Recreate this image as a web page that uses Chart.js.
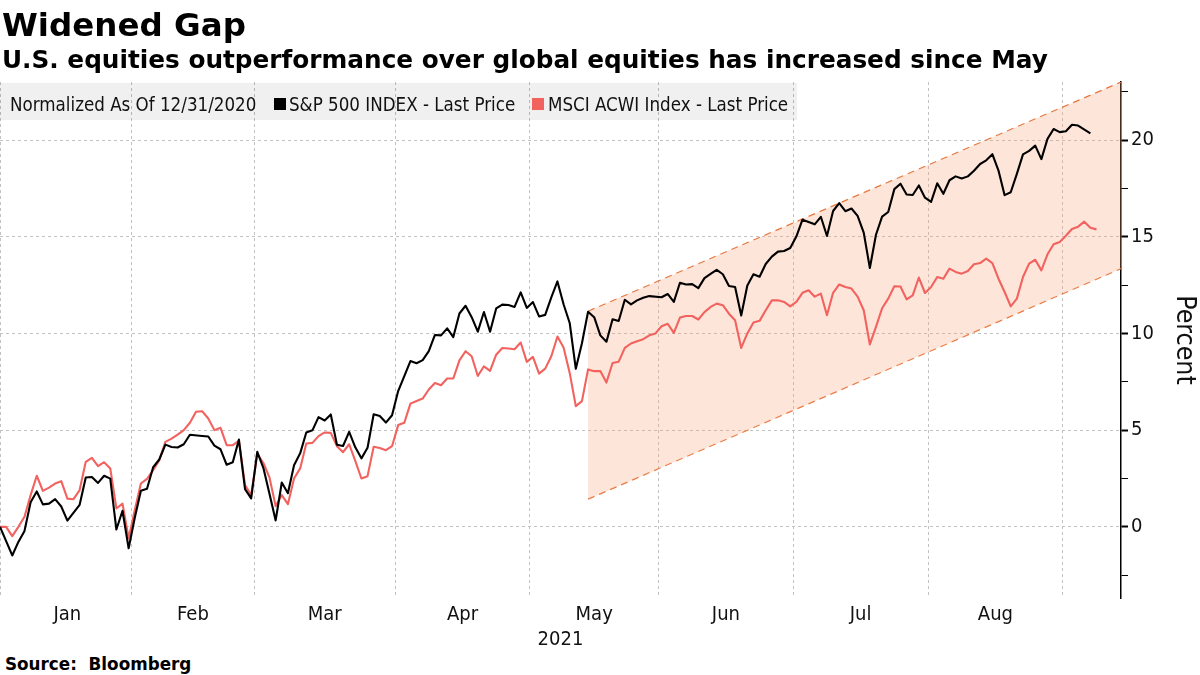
<!DOCTYPE html>
<html><head><meta charset="utf-8">
<script src="https://cdn.jsdelivr.net/npm/chart.js@4.4.1/dist/chart.umd.min.js"></script>
<style>
html,body{margin:0;padding:0;background:#fff;}
#wrap{position:relative;width:1200px;height:675px;overflow:hidden;font-family:"DejaVu Sans",sans-serif;}
.t{position:absolute;white-space:nowrap;line-height:1;color:#000;}
#title{left:2px;top:9px;font-size:32.5px;font-weight:bold;}
#sub{left:2px;top:48px;font-size:24.75px;font-weight:bold;}
#legend{position:absolute;left:0;top:83px;width:797px;height:37px;background:rgba(0,0,0,0.06);}
.lg{position:absolute;top:13px;font-family:"DejaVu Sans Condensed","DejaVu Sans",sans-serif;font-size:18.6px;line-height:1;white-space:nowrap;color:#111;}
.sq{position:absolute;top:15px;width:12px;height:12px;}
#src{left:5px;top:656px;font-size:16.8px;font-weight:bold;}
canvas{position:absolute;left:0;top:0;}
</style></head>
<body>
<div id="wrap">
  <canvas id="c" width="1200" height="652"></canvas>
  <div class="t" id="title">Widened Gap</div>
  <div class="t" id="sub">U.S. equities outperformance over global equities has increased since May</div>
  <div id="legend">
    <span class="lg" style="left:10px">Normalized As Of 12/31/2020</span>
    <span class="sq" style="left:274px;background:#000"></span>
    <span class="lg" style="left:289px">S&amp;P 500 INDEX - Last Price</span>
    <span class="sq" style="left:532px;background:#f2625f"></span>
    <span class="lg" style="left:548px">MSCI ACWI Index - Last Price</span>
  </div>
  <div class="t" id="src">Source:&nbsp; Bloomberg</div>
</div>
<script>
// ---- data (percent change since 12/31/2020, one value per weekday from 2020-12-31) ----
const startDate = '2020-12-31';
const endDate = '2021-09-08';

const sp500 = [
 0, null, -1.48, -0.78, -0.21, 1.27, 1.83, 1.16, 1.20, 1.43, 1.05, 0.32, null, 1.14, 2.55, 2.58, 2.27, 2.64, 2.49, -0.14, 0.83, -1.11,
 0.47, 1.87, 1.97, 3.08, 3.48, 4.25, 4.13, 4.10, 4.27, 4.76, null, 4.70, 4.67, 4.20, 4.01, 3.21, 3.34, 4.51, 1.95, 1.47,
 3.88, 3.04, 1.70, 0.33, 2.29, 1.74, 3.18, 3.80, 4.88, 4.99, 5.67, 5.50, 5.81, 4.24, 4.18, 4.91, 4.11, 3.54, 4.09, 5.82, 5.73, 5.39, 5.77,
 7.02, null, 8.57, 8.46, 8.62, 9.08, 9.92, 9.90, 10.26, 9.81, 11.03, 11.43, 10.84, 10.09, 11.11, 10.09, 11.29, 11.49, 11.47, 11.37, 12.12, 11.32,
 11.62, 10.88, 10.96, 11.86, 12.69, 11.51, 10.54, 8.17, 9.49, 11.12, 10.84, 9.90, 9.57, 10.73, 10.64, 11.74, 11.50, 11.71, 11.84, 11.93, null,
 11.87, 12.04, 11.63, 12.62, 12.53, 12.55, 12.34, 12.86, 13.08, 13.29, 13.06, 12.45, 12.40, 10.93, 12.48, 13.06, 12.93, 13.59, 13.97, 14.23, 14.26, 14.42,
 15.01, 15.88, null, 15.64, 16.03, 15.04, 16.33, 16.74, 16.32, 16.46, 16.08, 15.21, 13.38, 15.10, 16.04, 16.28, 17.46, 17.74, 17.18, 17.16, 17.65, 17.02,
 16.80, 17.76, 17.22, 17.92, 18.12, 18.01, 18.12, 18.41, 18.76, 18.95, 19.27, 18.42, 17.15, 17.30, 18.25, 19.26, 19.44, 19.71, 19.01, 20.06, 20.57, 20.41,
 20.45, 20.79, 20.75, null, 20.34
];

const acwi = [
 0, 0, -0.48, 0.00, 0.52, 1.64, 2.64, 1.86, 2.03, 2.24, 2.36, 1.46, 1.43, 1.90, 3.36, 3.57, 3.14, 3.34, 3.02, 0.95, 1.20, -0.60,
 0.86, 2.24, 2.48, 2.93, 3.45, 4.39, 4.56, 4.77, 5.00, 5.38, 5.95, 5.98, 5.60, 5.00, 5.12, 4.22, 4.22, 4.45, 2.16, 1.64,
 3.77, 3.30, 2.54, 1.07, 1.64, 1.17, 2.50, 3.02, 4.31, 4.34, 4.69, 4.88, 4.86, 4.17, 3.86, 4.27, 3.41, 2.50, 2.62, 4.14, 4.08, 3.96, 4.17,
 5.26, 5.38, 6.37, 6.51, 6.63, 7.10, 7.44, 7.32, 7.67, 7.67, 8.61, 9.08, 8.82, 7.80, 8.30, 8.06, 8.90, 9.25, 9.22, 9.18, 9.53, 8.53,
 8.79, 7.92, 8.18, 8.82, 9.84, 9.27, 7.96, 6.24, 6.50, 8.14, 8.05, 8.06, 7.46, 8.47, 8.54, 9.25, 9.48, 9.60, 9.70, 9.90, 10.00,
 10.37, 10.50, 10.03, 10.82, 10.90, 10.90, 10.72, 11.10, 11.37, 11.54, 11.46, 11.02, 10.68, 9.25, 10.00, 10.56, 10.65, 11.20, 11.71, 11.71, 11.63, 11.40,
 11.63, 12.10, 12.23, 11.90, 12.06, 10.94, 12.10, 12.53, 12.40, 12.32, 11.90, 11.20, 9.43, 10.34, 11.30, 11.80, 12.44, 12.43, 11.76, 11.97, 12.89, 12.09,
 12.40, 12.92, 12.83, 13.35, 13.18, 13.09, 13.23, 13.58, 13.64, 13.87, 13.64, 12.83, 12.14, 11.40, 11.80, 12.92, 13.61, 13.81, 13.26, 14.09, 14.61, 14.73,
 15.05, 15.40, 15.52, 15.78, 15.46, 15.38
];

// trend channel drawn from mid-May to the right edge (percent values at its two ends)
const channelStartDate = '2021-05-14';
const channelUpper = [11.15, 23.0];
const channelLower = [1.43, 13.35];

const monthLabels = ['Jan','Feb','Mar','Apr','May','Jun','Jul','Aug'];
const yTickValues = [-2.5, 0, 2.5, 5, 7.5, 10, 12.5, 15, 17.5, 20, 22.5];
const yMin = -3.68, yMax = 23.0;
const xTitle = '2021';
const yTitle = 'Percent';

// ---- weekday axis ----
function weekdays(a, b){
  const out = [];
  const d = new Date(a + 'T00:00:00Z'), e = new Date(b + 'T00:00:00Z');
  while (d <= e){
    const w = d.getUTCDay();
    if (w !== 0 && w !== 6) out.push(d.toISOString().slice(0,10));
    d.setUTCDate(d.getUTCDate() + 1);
  }
  return out;
}
const dates = weekdays(startDate, endDate);
const xMax = dates.length + 3; // right edge a few weekdays after the last date

const monthFirst = [];
dates.forEach((s, i) => {
  if (i > 0 && s.slice(5,7) !== dates[i-1].slice(5,7)) monthFirst.push(i);
});
const bounds = monthFirst.map(i => i - 0.5);
const gridTicks = [0].concat(bounds.slice(1));
const monthMids = monthLabels.map((m, k) => (bounds[k] + bounds[k+1]) / 2);

const chStart = dates.indexOf(channelStartDate);
const toPts = arr => arr.map((v, i) => ({x: i, y: v}));

const condensed = '"DejaVu Sans Condensed", "DejaVu Sans", sans-serif';
const orange = '#e8773e';

new Chart(document.getElementById('c'), {
  type: 'line',
  data: {
    datasets: [
      { label: 'S&P 500 INDEX - Last Price', data: toPts(sp500), borderColor: '#000', borderWidth: 2.1, pointRadius: 0, tension: 0, spanGaps: true, fill: false, borderJoinStyle: 'round' },
      { label: 'MSCI ACWI Index - Last Price', data: toPts(acwi), borderColor: '#f2625f', borderWidth: 2.1, pointRadius: 0, tension: 0, spanGaps: true, fill: false, borderJoinStyle: 'round' },
      { label: 'upper', data: [{x: chStart, y: channelUpper[0]}, {x: xMax, y: channelUpper[1]}], borderColor: orange, borderWidth: 1.2, borderDash: [7,5], pointRadius: 0, fill: '+1', backgroundColor: 'rgba(250,160,120,0.28)' },
      { label: 'lower', data: [{x: chStart, y: channelLower[0]}, {x: xMax, y: channelLower[1]}], borderColor: orange, borderWidth: 1.2, borderDash: [7,5], pointRadius: 0, fill: false }
    ]
  },
  options: {
    responsive: false,
    animation: false,
    layout: { padding: { top: 82, left: 0, right: 0, bottom: 0 } },
    plugins: { legend: { display: false }, tooltip: { enabled: false } },
    scales: {
      x: {
        type: 'linear', min: 0, max: xMax, position: 'bottom',
        afterBuildTicks: s => { s.ticks = gridTicks.map(v => ({value: v})); },
        ticks: { display: false },
        grid: { color: '#c2c2c2', lineWidth: 1, drawTicks: false },
        border: { display: false, dash: [3, 3] },
        afterFit: s => { s.height = 0; }
      },
      xl: {
        type: 'linear', min: 0, max: xMax, position: 'bottom',
        afterBuildTicks: s => { s.ticks = monthMids.map(v => ({value: v})); },
        ticks: { callback: (v, i) => monthLabels[i], font: { family: condensed, size: 20 }, color: '#111', padding: 5, maxRotation: 0, autoSkip: false },
        grid: { display: false, drawTicks: false },
        border: { display: false },
        title: { display: true, text: xTitle, font: { family: condensed, size: 20 }, color: '#111', padding: { top: 0, bottom: 0 } },
        afterFit: s => { s.height = 54; }
      },
      y: {
        position: 'right', min: yMin, max: yMax,
        afterBuildTicks: s => { s.ticks = yTickValues.map(v => ({value: v})); },
        ticks: { callback: v => (v % 5 === 0 ? String(v) : ''), font: { family: condensed, size: 20 }, color: '#111', padding: 3, autoSkip: false },
        grid: {
          color: c => (c.tick && c.tick.value % 5 === 0) ? '#c2c2c2' : 'rgba(0,0,0,0)',
          lineWidth: 1, drawTicks: true, tickLength: 7, tickColor: '#000',
          tickWidth: c => (c.tick && c.tick.value % 5 === 0) ? 2 : 1
        },
        border: { display: true, color: '#000', width: 1.5, dash: [3, 3] },
        title: { display: true, text: yTitle, font: { family: condensed, size: 26.5 }, color: '#111', padding: { top: 0, bottom: 5 } },
        afterFit: s => { s.width = 79; }
      }
    }
  }
});
</script>
</body></html>
